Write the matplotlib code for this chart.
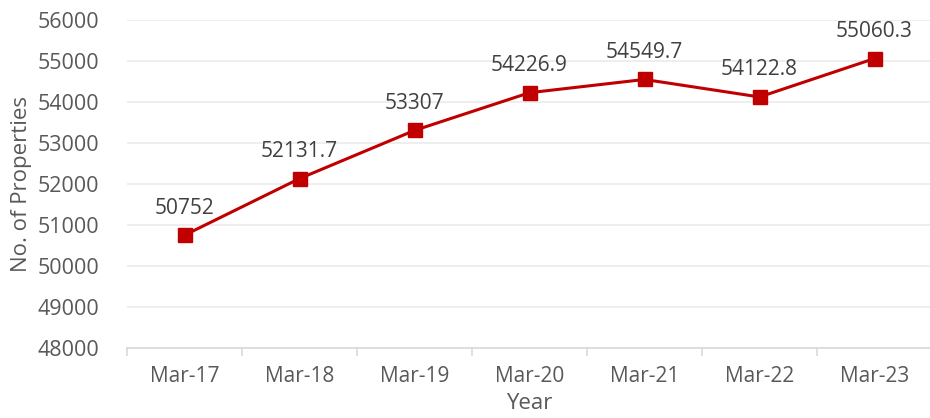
import matplotlib.pyplot as plt

# ── Data ───────────────────────────────────────────────
YEARS = ['Mar-17', 'Mar-18', 'Mar-19', 'Mar-20', 'Mar-21', 'Mar-22', 'Mar-23']
PROPERTIES = [50752, 52131.7, 53307, 54226.9, 54549.7, 54122.8, 55060.3]
LABELS = ['50752', '52131.7', '53307', '54226.9', '54549.7', '54122.8', '55060.3']

plt.rcParams['font.family'] = ['Open Sans', 'DejaVu Sans']

fig = plt.figure(figsize=(9.3, 4.18), dpi=100)
ax = fig.add_axes([127 / 930, 70 / 418, 805 / 930, 328 / 418])

x = list(range(len(YEARS)))
ax.plot(x, PROPERTIES, color='#C00000', linewidth=2.2, marker='s',
        markersize=10, zorder=3)

for xi, yi, lbl in zip(x, PROPERTIES, LABELS):
    ax.annotate(lbl, (xi, yi), xytext=(0, 12), textcoords='offset points',
                ha='center', va='bottom', fontsize=15, color='#404040')

# ── Axes ───────────────────────────────────────────────
ax.set_xlim(-0.5, len(YEARS) - 0.5)
ax.set_ylim(48000, 56000)
ax.set_yticks(range(48000, 56001, 1000))
ax.set_xticks(x)
ax.set_xticklabels(YEARS)
ax.set_xticks([i - 0.5 for i in range(len(YEARS) + 1)], minor=True)

ax.grid(axis='y', color='#EBEBEB', linewidth=1.2)
ax.set_axisbelow(True)

for side in ['top', 'right', 'left']:
    ax.spines[side].set_visible(False)
ax.spines['bottom'].set_color('#D9D9D9')
ax.spines['bottom'].set_linewidth(1.2)

ax.tick_params(axis='y', length=0, pad=20, labelsize=15.5, labelcolor='#595959')
ax.tick_params(axis='x', which='major', length=0, pad=13, labelsize=15,
               labelcolor='#595959')
ax.tick_params(axis='x', which='minor', length=6, color='#D9D9D9', width=1.2)

ax.set_ylabel('No. of Properties', fontsize=16, color='#595959', labelpad=4)
ax.set_xlabel('Year', fontsize=16, color='#595959', labelpad=4)

plt.savefig('out.png', dpi=100)
